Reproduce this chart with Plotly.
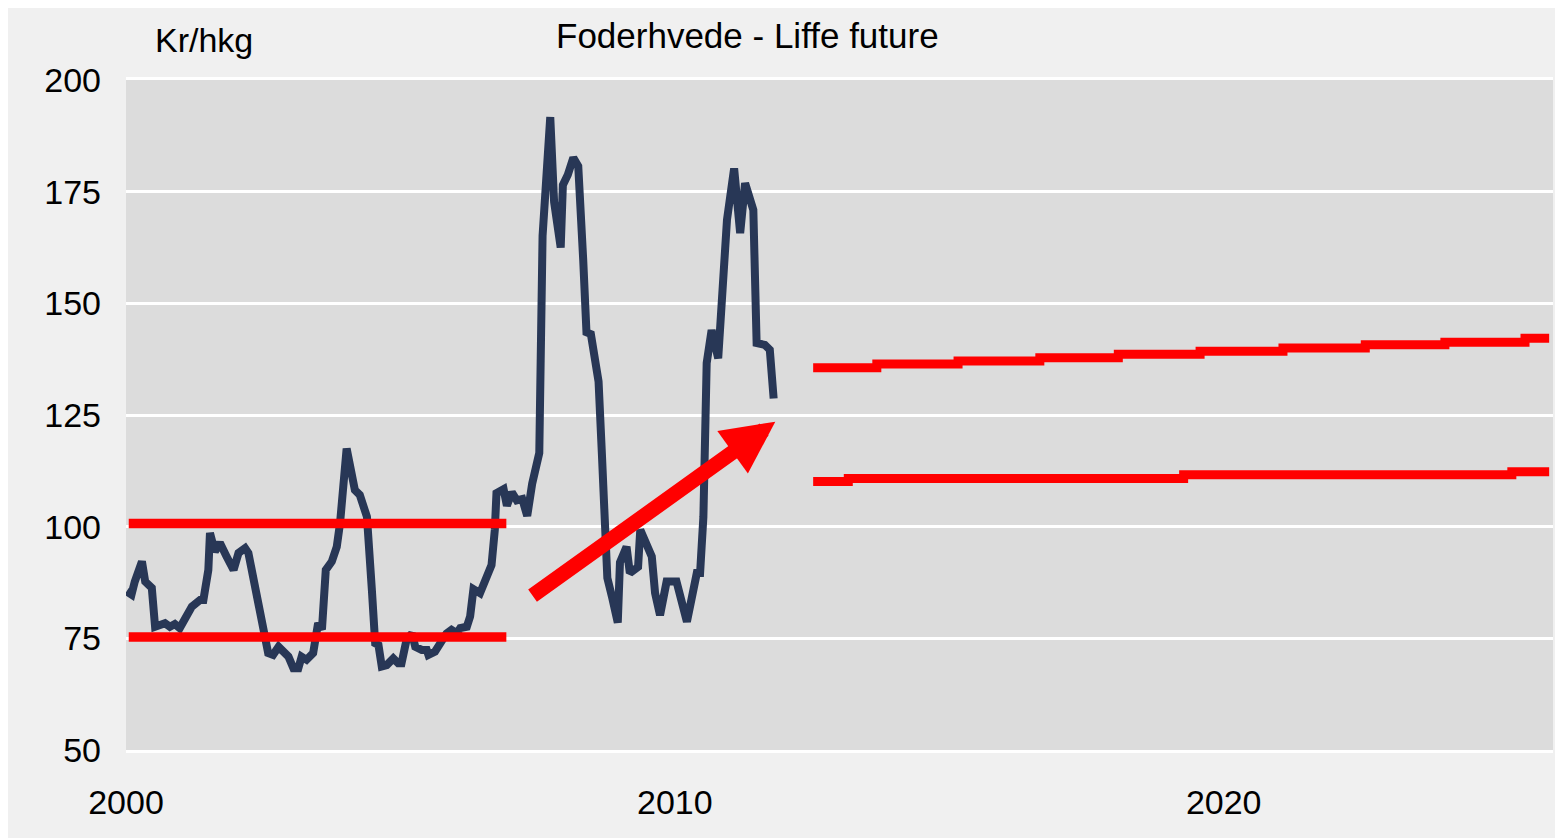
import plotly.graph_objects as go

NAVY = "#283756"
RED = "#FF0000"
OUTER_BG = "#F0F0F0"
PLOT_BG = "#DCDCDC"
FONT = "Liberation Sans, Arial, sans-serif"

# Foderhvede price, Liffe future (kr/hkg)
price_t = [
    2000.01, 2000.10, 2000.16, 2000.29, 2000.35, 2000.47, 2000.53, 2000.71, 2000.80, 2000.89,
    2000.98, 2001.11, 2001.20, 2001.35, 2001.41, 2001.50, 2001.53, 2001.62, 2001.71, 2001.83,
    2001.96, 2002.05, 2002.17, 2002.23, 2002.32, 2002.38, 2002.50, 2002.59, 2002.68, 2002.78,
    2002.96, 2003.05, 2003.14, 2003.20, 2003.29, 2003.41, 2003.50, 2003.57, 2003.64, 2003.75,
    2003.84, 2003.90, 2004.02, 2004.17, 2004.26, 2004.39, 2004.48, 2004.54, 2004.60, 2004.66,
    2004.75, 2004.87, 2004.96, 2005.02, 2005.11, 2005.21, 2005.27, 2005.39, 2005.48, 2005.51,
    2005.63, 2005.72, 2005.84, 2005.93, 2006.03, 2006.09, 2006.21, 2006.27, 2006.33, 2006.45,
    2006.54, 2006.66, 2006.72, 2006.75, 2006.88, 2006.94, 2007.03, 2007.12, 2007.22, 2007.31,
    2007.40, 2007.53, 2007.59, 2007.73, 2007.80, 2007.92, 2007.96, 2008.05, 2008.15, 2008.24,
    2008.33, 2008.39, 2008.47, 2008.61, 2008.67, 2008.72, 2008.77, 2008.86, 2008.96, 2009.00,
    2009.12, 2009.18, 2009.33, 2009.37, 2009.49, 2009.58, 2009.64, 2009.73, 2009.85, 2010.03,
    2010.22, 2010.31, 2010.40, 2010.46, 2010.52, 2010.58, 2010.67, 2010.79, 2010.95, 2011.08,
    2011.19, 2011.28, 2011.43, 2011.49, 2011.64, 2011.73, 2011.80,
]
price_v = [
    85.5, 84.8, 87.7, 92.2, 87.7, 86.3, 77.6, 78.4, 77.6, 78.2,
    77.3, 80.2, 82.1, 83.6, 83.6, 90.3, 98.6, 94.4, 96.4, 93.4,
    90.3, 94.1, 95.2, 94.1, 88.8, 83.6, 77.6, 71.7, 71.3, 73.1,
    70.9, 68.3, 68.3, 70.9, 70.2, 71.7, 78.4, 77.0, 90.3, 92.2,
    95.5, 100.8, 117.5, 108.2, 107.1, 102.2, 85.8, 73.9, 73.5, 68.7,
    69.0, 70.5, 69.4, 69.4, 74.6, 76.1, 73.1, 72.4, 72.4, 71.3,
    72.0, 73.9, 76.1, 76.9, 76.1, 77.3, 77.6, 79.9, 86.0, 85.1,
    88.1, 91.4, 99.3, 107.5, 108.4, 104.7, 107.7, 105.9, 106.2, 102.4,
    109.6, 116.5, 165.1, 191.7, 172.7, 162.5, 176.5, 178.8, 182.6, 180.7,
    159.8, 143.5, 143.1, 132.5, 116.5, 100.5, 88.5, 84.0, 78.5, 92.0,
    95.5, 89.6, 91.0, 99.3, 95.5, 93.3, 85.1, 80.2, 87.7, 87.7,
    78.7, 85.1, 89.6, 89.6, 102.2, 136.6, 144.0, 137.7, 168.7, 180.2,
    165.7, 176.9, 170.9, 141.1, 140.7, 139.6, 128.7,
]

# old trading band 2000-2006
band_t = [2000.05, 2006.93]
band_low = [75.3, 75.3]
band_high = [100.7, 100.7]

# expected future band (step lines)
fc_high_t = [2012.52, 2013.68, 2015.16, 2016.65, 2018.08, 2019.57, 2021.08, 2022.58, 2024.03, 2025.49, 2025.93]
fc_high_v = [135.6, 136.4, 137.1, 137.8, 138.6, 139.3, 140.0, 140.7, 141.3, 142.2, 142.2]
fc_low_t = [2012.52, 2013.16, 2019.27, 2025.25, 2025.93]
fc_low_v = [110.1, 110.8, 111.6, 112.3, 112.3]

# arrow: tail and tip (data units)
arrow_tail = (2007.38, 84.3)
arrow_head = (2011.83, 123.5)

x_ticks = [2000, 2010, 2020]
y_ticks = [50, 75, 100, 125, 150, 175, 200]

fig = go.Figure()
fig.add_trace(
    go.Scatter(x=price_t, y=price_v, mode="lines",
               line=dict(color=NAVY, width=8), hoverinfo="skip")
)
for vals in (band_low, band_high):
    fig.add_trace(
        go.Scatter(x=band_t, y=vals, mode="lines",
                   line=dict(color=RED, width=9.5), hoverinfo="skip")
    )
fig.add_trace(
    go.Scatter(x=fc_high_t, y=fc_high_v, mode="lines",
               line=dict(color=RED, width=9, shape="hv"), hoverinfo="skip")
)
fig.add_trace(
    go.Scatter(x=fc_low_t, y=fc_low_v, mode="lines",
               line=dict(color=RED, width=9, shape="hv"), hoverinfo="skip")
)

fig.add_annotation(
    x=arrow_head[0], y=arrow_head[1], ax=arrow_tail[0], ay=arrow_tail[1],
    xref="x", yref="y", axref="x", ayref="y",
    showarrow=True, arrowhead=2, arrowsize=0.7, arrowwidth=15,
    arrowcolor=RED, text="",
)

# titles
fig.add_annotation(
    x=0.4352, y=1.066, xref="paper", yref="paper", xanchor="center", yanchor="middle",
    text="Foderhvede - Liffe future", showarrow=False,
    font=dict(family=FONT, size=35, color="black"),
)
fig.add_annotation(
    x=0.0189, y=1.06, xref="paper", yref="paper", xanchor="left", yanchor="middle",
    text="Kr/hkg", showarrow=False,
    font=dict(family=FONT, size=34, color="black"),
)

fig.update_layout(
    width=1555,
    height=830,
    showlegend=False,
    paper_bgcolor=OUTER_BG,
    plot_bgcolor=PLOT_BG,
    margin=dict(l=118, r=10, t=72, b=88, pad=0),
    font=dict(family=FONT, size=34, color="black"),
    xaxis=dict(
        range=[2000, 2026], tickvals=x_ticks, ticktext=[str(v) for v in x_ticks],
        showgrid=False, zeroline=False, ticks="",
        showline=True, mirror=True, linecolor="white", linewidth=3,
        ticklabelstandoff=20,
    ),
    yaxis=dict(
        range=[50, 200], tickvals=y_ticks, showgrid=True, gridcolor="white",
        gridwidth=3, zeroline=False, showline=False, ticks="",
        ticklabelstandoff=24,
    ),
)

fig.write_html("out.html")
